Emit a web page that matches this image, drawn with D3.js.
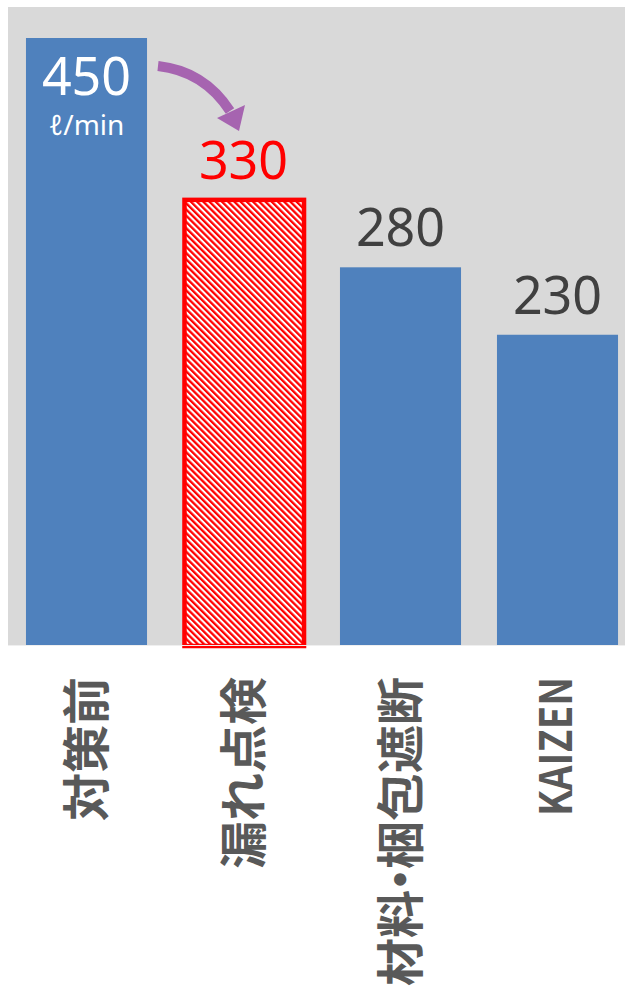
<!DOCTYPE html>
<html>
<head>
<meta charset="utf-8">
<script src="https://cdn.jsdelivr.net/npm/d3@7"></script>
<style>
  html, body { margin: 0; padding: 0; background: #ffffff; }
  svg { display: block; }
</style>
</head>
<body>
<svg id="chart" width="625" height="989"></svg>
<script>
// Flow rate per stage of the improvement (ℓ/min)
const categories = ["対策前", "漏れ点検", "材料・梱包遮断", "KAIZEN"];
const values = [450, 330, 280, 230];
const unitLabel = "ℓ/min";
const highlightIndex = 1;   // hatched bar

const W = 625, H = 989;
const plot = { left: 8, top: 7, right: 625, bottom: 645 };

const svg = d3.select("#chart");

// Diagonal red/white hatch for the highlighted bar
const defs = svg.append("defs");
const hatch = defs.append("pattern")
  .attr("id", "hatch")
  .attr("patternUnits", "userSpaceOnUse")
  .attr("width", 4.4)
  .attr("height", 4.4)
  .attr("patternTransform", "rotate(-45)");
hatch.append("rect").attr("width", 4.4).attr("height", 4.4).attr("fill", "#ffffff");
hatch.append("rect").attr("width", 2.3).attr("height", 4.4).attr("fill", "#ff0000");

// Plot area background
svg.append("rect")
  .attr("x", plot.left).attr("y", plot.top)
  .attr("width", plot.right - plot.left)
  .attr("height", plot.bottom - plot.top)
  .attr("fill", "#d9d9d9");

const x = d3.scaleBand()
  .domain(categories)
  .range([8, 636])
  .paddingInner(0.229)
  .paddingOuter(0.1145);

const y = d3.scaleLinear()
  .domain([0, 450])
  .range([plot.bottom, 38]);

const data = categories.map((c, i) => ({ cat: c, value: values[i], i }));

// Bars
svg.append("g").selectAll("rect")
  .data(data)
  .join("rect")
  .attr("x", d => x(d.cat) + (d.i === highlightIndex ? 1.5 : 0))
  .attr("y", d => y(d.value))
  .attr("width", d => x.bandwidth() - (d.i === highlightIndex ? 1.5 : 0))
  .attr("height", d => y(0) - y(d.value) + (d.i === highlightIndex ? 1 : 0))
  .attr("fill", d => d.i === highlightIndex ? "url(#hatch)" : "#4f81bd")
  .attr("stroke", d => d.i === highlightIndex ? "#ff0000" : "none")
  .attr("stroke-width", d => d.i === highlightIndex ? 4.5 : 0);

// Baseline
svg.append("line")
  .attr("x1", plot.left).attr("x2", plot.right)
  .attr("y1", plot.bottom + 0.5).attr("y2", plot.bottom + 0.5)
  .attr("stroke", "#efefef")
  .attr("stroke-width", 1);

// Value labels
const valueFont = "'Noto Sans', 'DejaVu Sans', sans-serif";
svg.append("g").selectAll("text")
  .data(data)
  .join("text")
  .attr("x", d => x(d.cat) + x.bandwidth() / 2)
  .attr("y", d => d.i === 0 ? y(d.value) + 57 : y(d.value) - 21)
  .attr("text-anchor", "middle")
  .attr("font-family", valueFont)
  .attr("font-size", 52)
  .attr("fill", d => d.i === 0 ? "#ffffff" : (d.i === highlightIndex ? "#ff0000" : "#404040"))
  .text(d => d.value);

// Unit under the first value
svg.append("text")
  .attr("x", x(categories[0]) + x.bandwidth() / 2)
  .attr("y", y(values[0]) + 97)
  .attr("text-anchor", "middle")
  .attr("font-family", valueFont)
  .attr("font-size", 28)
  .attr("fill", "#ffffff")
  .text(unitLabel);

// Curved arrow from the first bar toward the second
svg.append("path")
  .attr("d", "M158,66 Q204,71 230,111")
  .attr("fill", "none")
  .attr("stroke", "#a664b0")
  .attr("stroke-width", 10);
svg.append("path")
  .attr("d", "M217,118 L245,105 L239,131 Z")
  .attr("fill", "#a664b0");

// Category labels (rotated); the middle dot gets a narrower advance
const labelSize = 48;
const labels = svg.append("g").selectAll("text")
  .data(data)
  .join("text")
  .attr("transform", d => `translate(${x(d.cat) + x.bandwidth() / 2},${677}) rotate(-90)`)
  .attr("text-anchor", "end")
  .attr("font-family", "'Noto Sans CJK JP', sans-serif")
  .attr("font-weight", "bold")
  .attr("font-size", labelSize)
  .attr("fill", "#595959");

labels.each(function(d) {
  const t = d3.select(this);
  if (/^[A-Za-z]+$/.test(d.cat)) {
    // Latin caps sit on the baseline: centre them on the band
    t.attr("dy", "0.33em")
      .attr("font-size", 44)
      .attr("textLength", 139)
      .attr("lengthAdjust", "spacingAndGlyphs")
      .text(d.cat);
    return;
  }
  t.attr("dy", "0.36em");
  const parts = d.cat.split("・");
  parts.forEach((p, k) => {
    if (k > 0) {
      t.append("tspan").attr("dx", -13.5).text("・");
      t.append("tspan").attr("dx", -13.5).text(p);
    } else {
      t.append("tspan").text(p);
    }
  });
});
</script>
</body>
</html>
